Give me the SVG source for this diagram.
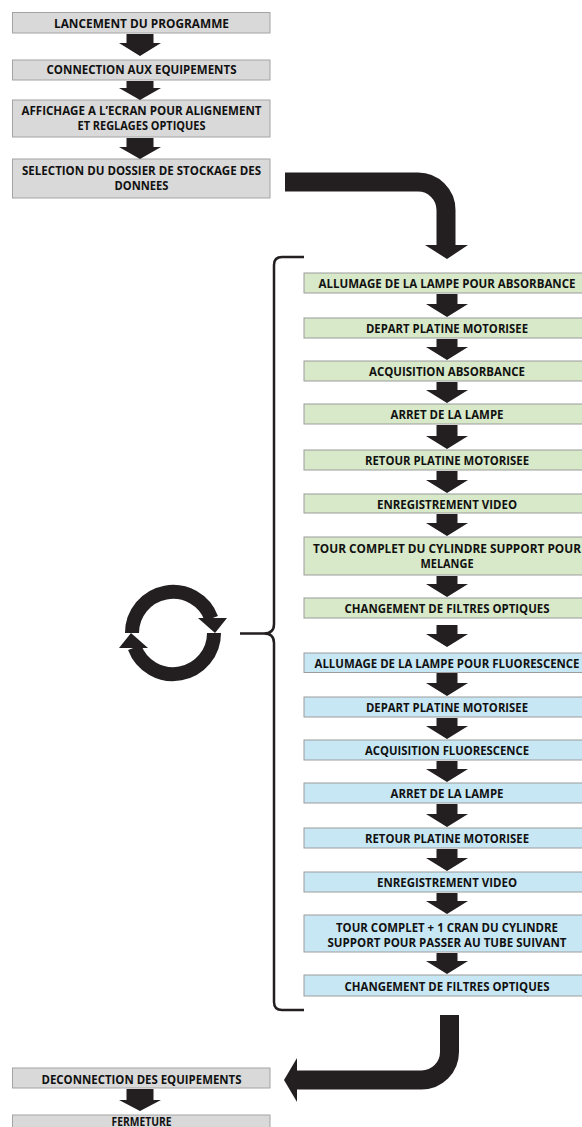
<svg xmlns="http://www.w3.org/2000/svg" width="582" height="1127" viewBox="0 0 582 1127">
<style>
.bg{fill:#ffffff}
.gray{fill:#d9d9d9;stroke:#a3a3a3;stroke-width:1}
.green{fill:#d7e9c8;stroke:#9c9c9c;stroke-width:1}
.blue{fill:#c7e7f4;stroke:#9c9c9c;stroke-width:1}
.arr{fill:#231f20}
.big{fill:none;stroke:#231f20;stroke-width:19}
.ring{fill:none;stroke:#231f20;stroke-width:14}
.brace{fill:none;stroke:#231f20;stroke-width:2.5}
text{font-family:"Open Sans","Liberation Sans",sans-serif;font-weight:700;font-size:11.6px;fill:#111111;text-anchor:middle}
</style>
<rect class="bg" x="0" y="0" width="582" height="1127"/>

<g id="n1"><rect class="gray" x="12.5" y="12.5" width="257.5" height="20.5"/><text x="141.5" y="27.5" textLength="175" lengthAdjust="spacingAndGlyphs">LANCEMENT DU PROGRAMME</text></g>
<g id="n2"><rect class="gray" x="12.5" y="60" width="257.5" height="20"/><text x="141.5" y="74" textLength="190" lengthAdjust="spacingAndGlyphs">CONNECTION AUX EQUIPEMENTS</text></g>
<g id="n3"><rect class="gray" x="12.5" y="100" width="257.5" height="37"/><text x="141.5" y="115" textLength="240" lengthAdjust="spacingAndGlyphs">AFFICHAGE A L’ECRAN POUR ALIGNEMENT</text><text x="141.5" y="130" textLength="128" lengthAdjust="spacingAndGlyphs">ET REGLAGES OPTIQUES</text></g>
<g id="n4"><rect class="gray" x="12.5" y="159" width="257.5" height="39"/><text x="141.5" y="175" textLength="239" lengthAdjust="spacingAndGlyphs">SELECTION DU DOSSIER DE STOCKAGE DES</text><text x="141.5" y="189.5" textLength="54" lengthAdjust="spacingAndGlyphs">DONNEES</text></g>

<g id="g1"><rect class="green" x="304" y="273" width="290" height="20"/><text x="447" y="288" textLength="257" lengthAdjust="spacingAndGlyphs">ALLUMAGE DE LA LAMPE POUR ABSORBANCE</text></g>
<g id="g2"><rect class="green" x="304" y="318" width="290" height="20"/><text x="447" y="333" textLength="162" lengthAdjust="spacingAndGlyphs">DEPART PLATINE MOTORISEE</text></g>
<g id="g3"><rect class="green" x="304" y="361" width="290" height="20"/><text x="447" y="376" textLength="156" lengthAdjust="spacingAndGlyphs">ACQUISITION ABSORBANCE</text></g>
<g id="g4"><rect class="green" x="304" y="404" width="290" height="20"/><text x="447" y="419" textLength="113" lengthAdjust="spacingAndGlyphs">ARRET DE LA LAMPE</text></g>
<g id="g5"><rect class="green" x="304" y="450" width="290" height="20"/><text x="447" y="465" textLength="164" lengthAdjust="spacingAndGlyphs">RETOUR PLATINE MOTORISEE</text></g>
<g id="g6"><rect class="green" x="304" y="494" width="290" height="19"/><text x="447" y="508.5" textLength="140" lengthAdjust="spacingAndGlyphs">ENREGISTREMENT VIDEO</text></g>
<g id="g7"><rect class="green" x="304" y="537" width="290" height="38"/><text x="447" y="553" textLength="268" lengthAdjust="spacingAndGlyphs">TOUR COMPLET DU CYLINDRE SUPPORT POUR</text><text x="447" y="568" textLength="53" lengthAdjust="spacingAndGlyphs">MELANGE</text></g>
<g id="g8"><rect class="green" x="304" y="598" width="290" height="20"/><text x="447" y="613" textLength="205" lengthAdjust="spacingAndGlyphs">CHANGEMENT DE FILTRES OPTIQUES</text></g>

<g id="b1"><rect class="blue" x="304" y="653" width="290" height="19.5"/><text x="447" y="667.5" textLength="265" lengthAdjust="spacingAndGlyphs">ALLUMAGE DE LA LAMPE POUR FLUORESCENCE</text></g>
<g id="b2"><rect class="blue" x="304" y="697" width="290" height="20"/><text x="447" y="712" textLength="162" lengthAdjust="spacingAndGlyphs">DEPART PLATINE MOTORISEE</text></g>
<g id="b3"><rect class="blue" x="304" y="740" width="290" height="20"/><text x="447" y="755" textLength="164" lengthAdjust="spacingAndGlyphs">ACQUISITION FLUORESCENCE</text></g>
<g id="b4"><rect class="blue" x="304" y="783" width="290" height="20"/><text x="447" y="798" textLength="113" lengthAdjust="spacingAndGlyphs">ARRET DE LA LAMPE</text></g>
<g id="b5"><rect class="blue" x="304" y="828" width="290" height="20"/><text x="447" y="843" textLength="164" lengthAdjust="spacingAndGlyphs">RETOUR PLATINE MOTORISEE</text></g>
<g id="b6"><rect class="blue" x="304" y="872" width="290" height="20"/><text x="447" y="887" textLength="140" lengthAdjust="spacingAndGlyphs">ENREGISTREMENT VIDEO</text></g>
<g id="b7"><rect class="blue" x="304" y="915" width="290" height="37"/><text x="447" y="932" textLength="222" lengthAdjust="spacingAndGlyphs">TOUR COMPLET + 1 CRAN DU CYLINDRE</text><text x="447" y="946.5" textLength="239" lengthAdjust="spacingAndGlyphs">SUPPORT POUR PASSER AU TUBE SUIVANT</text></g>
<g id="b8"><rect class="blue" x="304" y="975" width="290" height="21"/><text x="447" y="990.5" textLength="205" lengthAdjust="spacingAndGlyphs">CHANGEMENT DE FILTRES OPTIQUES</text></g>

<g id="n5"><rect class="gray" x="12.5" y="1068" width="257.5" height="20"/><text x="141.5" y="1083.5" textLength="200" lengthAdjust="spacingAndGlyphs">DECONNECTION DES EQUIPEMENTS</text></g>
<g id="n6"><rect class="gray" x="12.5" y="1115" width="257.5" height="20"/><text x="141.5" y="1126" textLength="60" lengthAdjust="spacingAndGlyphs">FERMETURE</text></g>

<g id="loop-icon">
<path class="ring" d="M132,633 A41,41 0 0 1 211.4,618.5"/>
<polygon class="arr" points="198,618 227,618 215,633"/>
<g transform="rotate(180 173 633)">
<path class="ring" d="M132,633 A41,41 0 0 1 211.4,618.5"/>
<polygon class="arr" points="198,618 227,618 215,633"/>
</g>
</g>

<g id="brace">
<path class="brace" d="M304,257 H282 Q274,257 274,265 V624 Q274,633.5 264,633.5 H240 M264,633.5 Q274,633.5 274,643 V1002 Q274,1010 282,1010 H304"/>
</g>

<g id="connectors">
<polygon class="arr" points="126.5,34 153.5,34 153.5,43 161,43 140,56 119,43 126.5,43"/>
<polygon class="arr" points="126.5,81 153.5,81 153.5,88 161,88 140,100 119,88 126.5,88"/>
<polygon class="arr" points="126.5,138 153.5,138 153.5,147 161,147 140,159 119,147 126.5,147"/>
<polygon class="arr" points="126.5,1089 153.5,1089 153.5,1100 161,1100 140,1111 119,1100 126.5,1100"/>

<path class="big" d="M285,182 H418 A28,28 0 0 1 446,210 V246"/>
<polygon class="arr" points="425,245 468,245 447,259"/>

<path class="big" d="M449.5,1015 V1052 A28,28 0 0 1 421.5,1080 H296"/>
<polygon class="arr" points="297,1058 297,1102 284,1080"/>

<polygon class="arr" points="436.5,294 457.5,294 457.5,304 468,304 447,317 426,304 436.5,304"/>
<polygon class="arr" points="436.5,339 457.5,339 457.5,347 468,347 447,360 426,347 436.5,347"/>
<polygon class="arr" points="436.5,382 457.5,382 457.5,390 468,390 447,403 426,390 436.5,390"/>
<polygon class="arr" points="436.5,425 457.5,425 457.5,436 468,436 447,449 426,436 436.5,436"/>
<polygon class="arr" points="436.5,471 457.5,471 457.5,480 468,480 447,493 426,480 436.5,480"/>
<polygon class="arr" points="436.5,514 457.5,514 457.5,523 468,523 447,536 426,523 436.5,523"/>
<polygon class="arr" points="436.5,576 457.5,576 457.5,584 468,584 447,597 426,584 436.5,584"/>
<polygon class="arr" points="436.5,625 457.5,625 457.5,634 468,634 447,647 426,634 436.5,634"/>
<polygon class="arr" points="436.5,673 457.5,673 457.5,683 468,683 447,696 426,683 436.5,683"/>
<polygon class="arr" points="436.5,718 457.5,718 457.5,726 468,726 447,739 426,726 436.5,726"/>
<polygon class="arr" points="436.5,761 457.5,761 457.5,769 468,769 447,782 426,769 436.5,769"/>
<polygon class="arr" points="436.5,804 457.5,804 457.5,814 468,814 447,827 426,814 436.5,814"/>
<polygon class="arr" points="436.5,849 457.5,849 457.5,858 468,858 447,871 426,858 436.5,858"/>
<polygon class="arr" points="436.5,893 457.5,893 457.5,901 468,901 447,914 426,901 436.5,901"/>
<polygon class="arr" points="436.5,953 457.5,953 457.5,961 468,961 447,974 426,961 436.5,961"/>
</g>
</svg>
